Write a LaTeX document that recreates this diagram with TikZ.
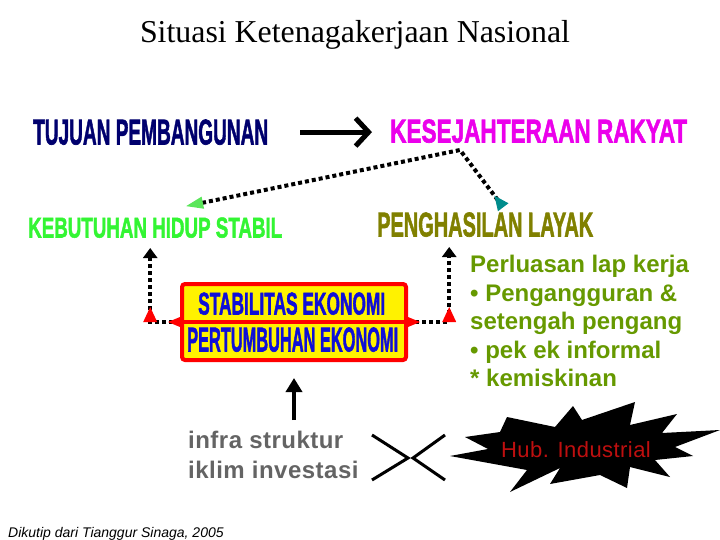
\documentclass[tikz,border=0pt]{standalone}
\usepackage{fontspec}
\usepackage{graphicx}
\setmainfont{Liberation Sans}
\newfontfamily\titlefont{Liberation Serif}
\usetikzlibrary{arrows.meta,calc}
\definecolor{navy}{RGB}{0,0,110}
\definecolor{mag}{RGB}{235,0,235}
\definecolor{lgreen}{RGB}{51,245,51}
\definecolor{olivec}{RGB}{128,128,0}
\definecolor{sblue}{RGB}{15,15,215}
\definecolor{ggreen}{RGB}{102,153,0}
\definecolor{tgray}{RGB}{100,100,100}
\definecolor{hubred}{RGB}{190,15,15}
\definecolor{tealc}{RGB}{0,140,140}
\definecolor{garrow}{RGB}{90,230,90}
\newcommand{\hd}[3]{\resizebox{#1}{#2}{\bfseries\addfontfeatures{FakeBold=2} #3}}
\tikzset{
  heading/.style={inner sep=0pt, anchor=south west},
  dotline/.style={line width=4pt, dash pattern=on 4pt off 3pt},
  bigarrow/.style={line width=5pt},
  redmark/.style={fill=red},
  bodytext/.style={inner sep=0pt, align=left}
}
\begin{document}
\begin{tikzpicture}[x=1pt,y=-1pt]
\useasboundingbox (0,0) rectangle (720,540);

% title
\node[inner sep=0pt, anchor=base] (title) at (355,43)
  {\resizebox{430pt}{!}{\fontsize{32}{32}\selectfont\titlefont Situasi Ketenagakerjaan Nasional}};

% headings
\node[heading, text=navy] (tuj) at (33,145) {\hd{235pt}{25pt}{TUJUAN PEMBANGUNAN}};
\node[heading, text=mag] (kes) at (390,143) {\hd{297pt}{23pt}{KESEJAHTERAAN RAKYAT}};
\node[heading, text=lgreen] (keb) at (28,238) {\hd{254pt}{20pt}{KEBUTUHAN HIDUP STABIL}};
\node[heading, text=olivec] (pen) at (377,237) {\hd{216pt}{24pt}{PENGHASILAN LAYAK}};

% main arrow
\draw[bigarrow, -{Straight Barb[length=13pt,width=28pt]}]
  ([xshift=32pt]tuj.east) -- ([xshift=-18pt]kes.west |- tuj.east);

% central box
\node[draw=red, line width=4pt, fill=yellow, rounded corners=3pt,
      minimum width=224pt, minimum height=76pt, inner sep=0pt] (box) at (294,322) {};
\draw[red, line width=4pt] (box.west) -- (box.east);
\node[heading, text=sblue] (stab) at (198,315) {\hd{187pt}{22pt}{STABILITAS EKONOMI}};
\node[heading, text=sblue] (pert) at (187,352) {\hd{211pt}{24pt}{PERTUMBUHAN EKONOMI}};

% diagonal dotted connector
\coordinate (peak) at ($(kes.south west)+(70,7)$);
\draw[dotline, {Triangle[reversed,color=tealc,length=15pt,width=12pt]}-{Triangle[color=garrow,length=18pt,width=11pt]}]
  ([xshift=18pt,yshift=5pt]pen.north) -- (peak) -- ([xshift=30pt,yshift=11pt]keb.north);

% left / right dotted connectors
\coordinate (lc) at ($(box.west -| keb.south)+(-5,0)$);
\coordinate (rc) at ($(box.east -| pen.south)+(-36,0)$);
\draw[dotline, -{Triangle[length=10pt,width=14pt]}]
  (box.west) -- (lc) -- ([xshift=-5pt,yshift=-10pt]keb.south);
\draw[dotline, -{Triangle[length=10pt,width=14pt]}]
  (box.east) -- (rc) -- ([xshift=-36pt,yshift=-10pt]pen.south);
\fill[redmark] ([yshift=5pt]box.west) -- ([xshift=-12pt]box.west) -- ([yshift=-5pt]box.west) -- cycle;
\fill[redmark] ([yshift=5pt]box.east) -- ([xshift=12pt]box.east) -- ([yshift=-5pt]box.east) -- cycle;
\fill[redmark] ($(lc)+(-7,0)$) -- ($(lc)+(0,-15)$) -- ($(lc)+(7,0)$) -- cycle;
\fill[redmark] ($(rc)+(-7,0)$) -- ($(rc)+(0,-15)$) -- ($(rc)+(7,0)$) -- cycle;

% right text block
\node[bodytext, anchor=north west, text=ggreen,
      font=\fontsize{24}{28.5}\selectfont\bfseries] (per) at (470,255)
  {Perluasan lap kerja\\ • Pengangguran \&\\ setengah pengang\\ • pek ek informal\\ * kemiskinan};

% infra text
\node[bodytext, anchor=north west, text=tgray,
      font=\fontsize{24}{30}\selectfont\bfseries\addfontfeatures{LetterSpace=2}] (infra) at (188,431)
  {infra struktur\\ iklim investasi};
\draw[line width=4.5pt, -{Triangle[length=14pt,width=16pt]}]
  ($(infra.north -| box.south)+(0,-11)$) -- ([yshift=-16pt]box.south);

% >< symbol
\draw[line width=3pt] (372,435) -- (408,458) -- (372,480);
\draw[line width=3pt] (445,435) -- (413,458) -- (445,480);

% starburst
\fill[black] (507,417) -- (555,427) -- (573,406) -- (582,420) -- (635,402) -- (630,425)
  -- (677,414) -- (662,433) -- (720,430) -- (675,447) -- (693,456) -- (655,460)
  -- (670,477) -- (630,467) -- (627,488) -- (600,475) -- (550,484) -- (560,468)
  -- (510,492) -- (527,470) -- (450,456) -- (488,449) -- (465,437) -- (500,432) -- cycle;
\node[inner sep=0pt, anchor=base, text=hubred,
      font=\fontsize{22}{22}\selectfont\addfontfeatures{LetterSpace=2}] (hub) at (576,457) {Hub. Industrial};

% footer
\node[inner sep=0pt, anchor=base west, font=\fontsize{14}{14}\selectfont\itshape] (foot) at (8,537.5)
  {Dikutip dari Tianggur Sinaga, 2005};
\end{tikzpicture}
\end{document}
